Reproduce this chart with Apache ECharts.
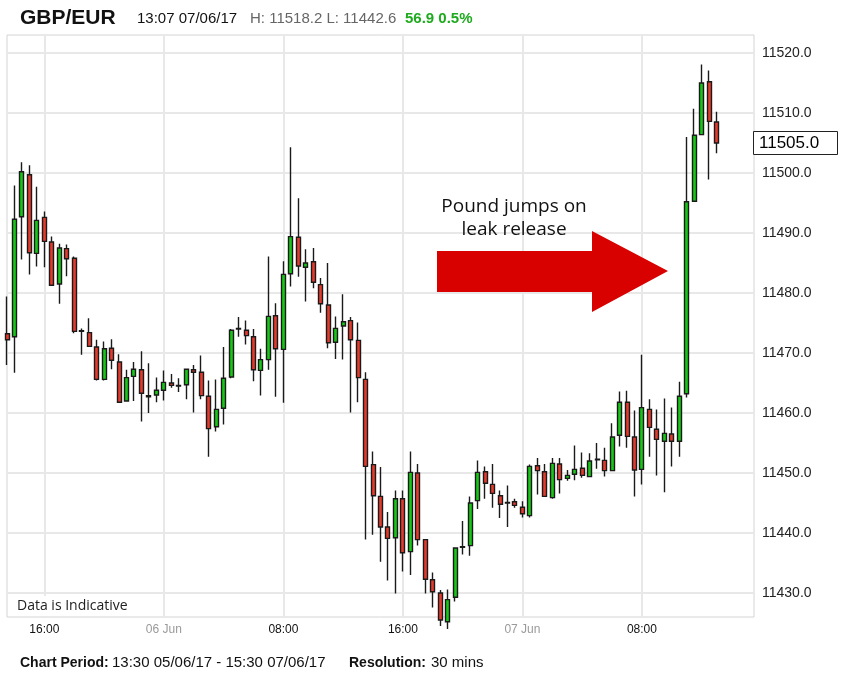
<!DOCTYPE html>
<html><head><meta charset="utf-8">
<script src="https://cdn.jsdelivr.net/npm/echarts@6/dist/echarts.min.js"></script>
<style>html,body{margin:0;padding:0;background:#fff}#c{width:843px;height:673px}</style>
</head><body><div id="c"></div><script>
// ---- data (GBP/EUR, 30-minute candles, 13:30 05/06/17 - 15:30 07/06/17) ----
const periodStart = { day: 5, hour: 13, minute: 30 };
const slotCount = 101;
const opens = [11473.2,11472.7,11492.7,11499.7,11486.6,11492.6,11488.5,11481.5,11487.4,11485.8,
11473.7,11473.4,11471.0,11465.6,11470.8,11468.5,11462.0,11466.1,11467.2,11462.9,
11463.0,11463.8,11465.0,11464.6,11464.7,11467.2,11466.8,11462.8,11457.7,11460.8,
11466.0,11474.0,11473.8,11472.7,11467.1,11468.9,11476.2,11470.6,11483.2,11489.3,
11484.3,11485.2,11481.4,11478.0,11471.8,11474.5,11475.4,11472.1,11465.6,11451.4,
11446.1,11441.0,11439.2,11445.7,11436.9,11450.0,11438.9,11432.2,11430.0,11425.2,
11429.3,11437.6,11437.9,11445.4,11450.2,11448.1,11446.2,11445.1,11445.2,11444.3,
11442.9,11451.2,11450.2,11445.9,11451.5,11449.1,11449.8,11450.8,11449.4,11452.2,
11452.1,11450.4,11456.3,11461.8,11456.0,11450.6,11460.6,11457.3,11455.3,11456.5,
11455.3,11463.2,11495.3,11506.4,11515.2,11508.5];
const closes = [11472.2,11492.3,11500.2,11486.7,11492.1,11488.6,11481.3,11487.5,11485.7,11473.6,
11473.6,11471.1,11465.6,11470.7,11468.8,11461.8,11465.9,11467.3,11463.3,11462.7,
11463.8,11465.1,11464.6,11464.5,11467.3,11466.8,11462.9,11457.4,11460.6,11465.8,
11473.8,11474.1,11472.9,11467.2,11468.9,11476.1,11470.7,11483.1,11489.4,11484.5,
11485.0,11481.8,11478.2,11471.7,11474.1,11475.2,11472.2,11465.9,11451.1,11446.2,
11441.0,11439.1,11445.7,11436.7,11450.1,11438.9,11432.3,11430.2,11425.5,11428.9,
11437.5,11437.7,11445.0,11450.1,11448.3,11446.6,11444.8,11445.0,11444.6,11443.2,
11451.1,11450.4,11446.1,11451.6,11448.9,11449.6,11450.6,11449.6,11452.0,11452.3,
11450.4,11456.0,11461.8,11456.1,11450.5,11460.9,11457.6,11455.6,11456.6,11455.3,
11462.8,11495.2,11506.3,11515.0,11508.6,11505.0];
const lows = [11468.0,11466.7,11485.6,11483.1,11484.4,11484.3,11481.2,11478.2,11482.8,11473.3,
11469.7,11471.0,11465.4,11465.4,11467.3,11461.7,11462.0,11462.0,11458.6,11460.0,
11461.8,11462.1,11464.2,11463.5,11462.3,11460.1,11462.3,11452.7,11456.9,11458.1,
11465.8,11472.7,11471.4,11465.3,11462.9,11467.2,11462.7,11461.7,11481.1,11482.7,
11478.6,11480.8,11476.7,11470.8,11469.0,11468.9,11460.1,11461.8,11438.9,11439.7,
11435.2,11432.1,11429.9,11433.6,11433.0,11437.9,11429.9,11427.6,11424.5,11424.0,
11428.6,11436.4,11436.2,11444.0,11445.7,11444.2,11442.5,11441.0,11444.2,11442.6,
11442.6,11446.4,11446.0,11445.7,11446.6,11448.7,11448.8,11449.2,11449.3,11450.7,
11449.4,11450.3,11454.4,11454.2,11446.1,11448.1,11452.7,11449.6,11446.8,11451.1,
11452.7,11462.6,11495.2,11506.4,11498.9,11503.3];
const highs = [11479.4,11497.9,11501.8,11501.3,11497.7,11493.6,11489.4,11488.2,11488.1,11486.1,
11474.1,11475.8,11472.2,11471.9,11472.3,11469.8,11467.2,11468.5,11470.3,11468.3,
11465.9,11467.1,11466.5,11465.8,11467.4,11468.0,11469.6,11465.4,11465.6,11471.0,
11474.0,11476.0,11475.4,11474.0,11470.7,11486.1,11478.3,11485.3,11504.3,11495.8,
11487.3,11487.5,11482.5,11485.0,11476.1,11479.8,11476.0,11475.1,11466.8,11453.6,
11451.0,11443.5,11447.1,11447.1,11453.6,11451.5,11438.9,11433.4,11430.5,11430.6,
11437.6,11442.0,11446.1,11452.1,11451.1,11451.5,11447.1,11447.9,11445.7,11445.3,
11451.4,11452.5,11451.5,11452.5,11452.5,11450.5,11454.6,11453.4,11453.3,11455.0,
11454.2,11458.3,11463.6,11463.7,11460.4,11469.7,11462.3,11460.6,11462.4,11460.9,
11465.2,11506.0,11510.7,11518.1,11517.1,11510.2];
const yTicks = [11430,11440,11450,11460,11470,11480,11490,11500,11510,11520];
const xTickCats = ['05/06 16:00','06/06 00:00','06/06 08:00','06/06 16:00','07/06 00:00','07/06 08:00'];
const xTickLabels = ['16:00','06 Jun','08:00','16:00','07 Jun','08:00'];
const xTickIsDate = [false,true,false,false,true,false];
const lastPrice = 11505.0;

// categories: 30-minute slots of the chart period
const pad = n => String(n).padStart(2, '0');
const categories = [];
{
  let d = periodStart.day, h = periodStart.hour, m = periodStart.minute;
  for (let k = 0; k < slotCount; k++) {
    categories.push(pad(d) + '/06 ' + pad(h) + ':' + pad(m));
    m += 30; if (m >= 60) { m -= 60; h += 1; } if (h >= 24) { h -= 24; d += 1; }
  }
}
const candleData = opens.map((o, i) => [o, closes[i], lows[i], highs[i]]);
const isTick = v => xTickCats.indexOf(v) >= 0;

const chart = echarts.init(document.getElementById('c'), null, { renderer: 'canvas' });
const FONT = 'Liberation Sans, Arial, sans-serif';
chart.setOption({
  animation: false,
  backgroundColor: '#fff',
  grid: { left: 7, top: 35, width: 747, height: 582, show: true, borderColor: '#d4d4d4', borderWidth: 1 },
  xAxis: {
    type: 'category', data: categories, boundaryGap: false,
    axisLine: { show: false }, axisTick: { show: false },
    axisLabel: {
      interval: (i, v) => isTick(v), margin: 7, fontSize: 12, fontFamily: FONT,
      formatter: v => { const k = xTickCats.indexOf(v); return k < 0 ? '' : (xTickIsDate[k] ? '{d|' + xTickLabels[k] + '}' : '{t|' + xTickLabels[k] + '}'); },
      rich: { t: { color: '#111', fontSize: 12, fontFamily: FONT }, d: { color: '#9a9a9a', fontSize: 12, fontFamily: FONT } }
    },
    splitLine: { show: true, interval: (i, v) => isTick(v), lineStyle: { color: '#e8e8e8', width: 2 } }
  },
  yAxis: {
    type: 'value', position: 'right', min: 11426, max: 11523, interval: 1, scale: true,
    axisLine: { show: false }, axisTick: { show: false }, splitLine: { show: false },
    axisLabel: { margin: 8, fontSize: 14, color: '#222', fontFamily: FONT,
      formatter: v => yTicks.indexOf(Math.round(v)) >= 0 && Math.abs(v - Math.round(v)) < 1e-6 ? v.toFixed(1) : '' }
  },
  series: [
    {
      type: 'line', data: [], z: 1, silent: true,
      markLine: { z: 1, silent: true, symbol: 'none', animation: false,
        label: { show: false }, lineStyle: { type: 'solid', color: '#e8e8e8', width: 2 },
        data: yTicks.map(v => ({ yAxis: v })) }
    },
    {
      type: 'candlestick', data: candleData, z: 3, barWidth: 4.5,
      itemStyle: { color: '#17c917', color0: '#e63a2c', borderColor: '#1a1a1a', borderColor0: '#1a1a1a', borderWidth: 1.4 }
    }
  ],
  graphic: [
    { type: 'rect', z: 50, shape: { x: 8, y: 596, width: 152, height: 20 }, style: { fill: '#fff' } },
    { type: 'text', z: 51, x: 17, y: 606, style: { text: 'Data is Indicative', font: '14px "Open Sans"', fill: '#222', verticalAlign: 'middle' } },
    { type: 'polygon', z: 40, shape: { points: [[437,251],[592,251],[592,231],[668,271],[592,312],[592,292],[437,292]] }, style: { fill: '#d90000' } },
    { type: 'text', z: 41, x: 514, y: 207, style: { text: 'Pound jumps on', font: '19px "Open Sans"', fill: '#111', align: 'center', verticalAlign: 'middle' } },
    { type: 'text', z: 41, x: 514, y: 230, style: { text: 'leak release', font: '19px "Open Sans"', fill: '#111', align: 'center', verticalAlign: 'middle' } },
    { type: 'text', x: 20, y: 18, style: { text: 'GBP/EUR', font: 'bold 21px "Liberation Sans"', fill: '#111', verticalAlign: 'middle' } },
    { type: 'text', x: 137, y: 19, style: { text: '13:07 07/06/17', font: '15px "Liberation Sans"', fill: '#111', verticalAlign: 'middle' } },
    { type: 'text', x: 250, y: 19, style: { text: 'H: 11518.2 L: 11442.6', font: '15px "Liberation Sans"', fill: '#666', verticalAlign: 'middle' } },
    { type: 'text', x: 405, y: 19, style: { text: '56.9 0.5%', font: 'bold 15px "Liberation Sans"', fill: '#1eaa1e', verticalAlign: 'middle' } },
    { type: 'text', x: 20, y: 663, style: { text: 'Chart Period:', font: 'bold 14px "Liberation Sans"', fill: '#111', verticalAlign: 'middle' } },
    { type: 'text', x: 112, y: 663, style: { text: '13:30 05/06/17 - 15:30 07/06/17', font: '15px "Liberation Sans"', fill: '#111', verticalAlign: 'middle' } },
    { type: 'text', x: 349, y: 663, style: { text: 'Resolution:', font: 'bold 14px "Liberation Sans"', fill: '#111', verticalAlign: 'middle' } },
    { type: 'text', x: 431, y: 663, style: { text: '30 mins', font: '15px "Liberation Sans"', fill: '#111', verticalAlign: 'middle' } }
  ]
});

// last-price box on the price axis, positioned from the axis scale
const yLast = chart.convertToPixel({ yAxisIndex: 0 }, lastPrice);
chart.setOption({
  graphic: [
    { type: 'rect', id: 'lastBox', z: 60, shape: { x: 753.5, y: yLast - 11.5, width: 84, height: 23 },
      style: { fill: '#fff', stroke: '#222', lineWidth: 1 } },
    { type: 'text', id: 'lastText', z: 61, x: 759, y: yLast + 0.5,
      style: { text: lastPrice.toFixed(1), font: '17px "Liberation Sans"', fill: '#000', verticalAlign: 'middle' } }
  ]
});
</script></body></html>
